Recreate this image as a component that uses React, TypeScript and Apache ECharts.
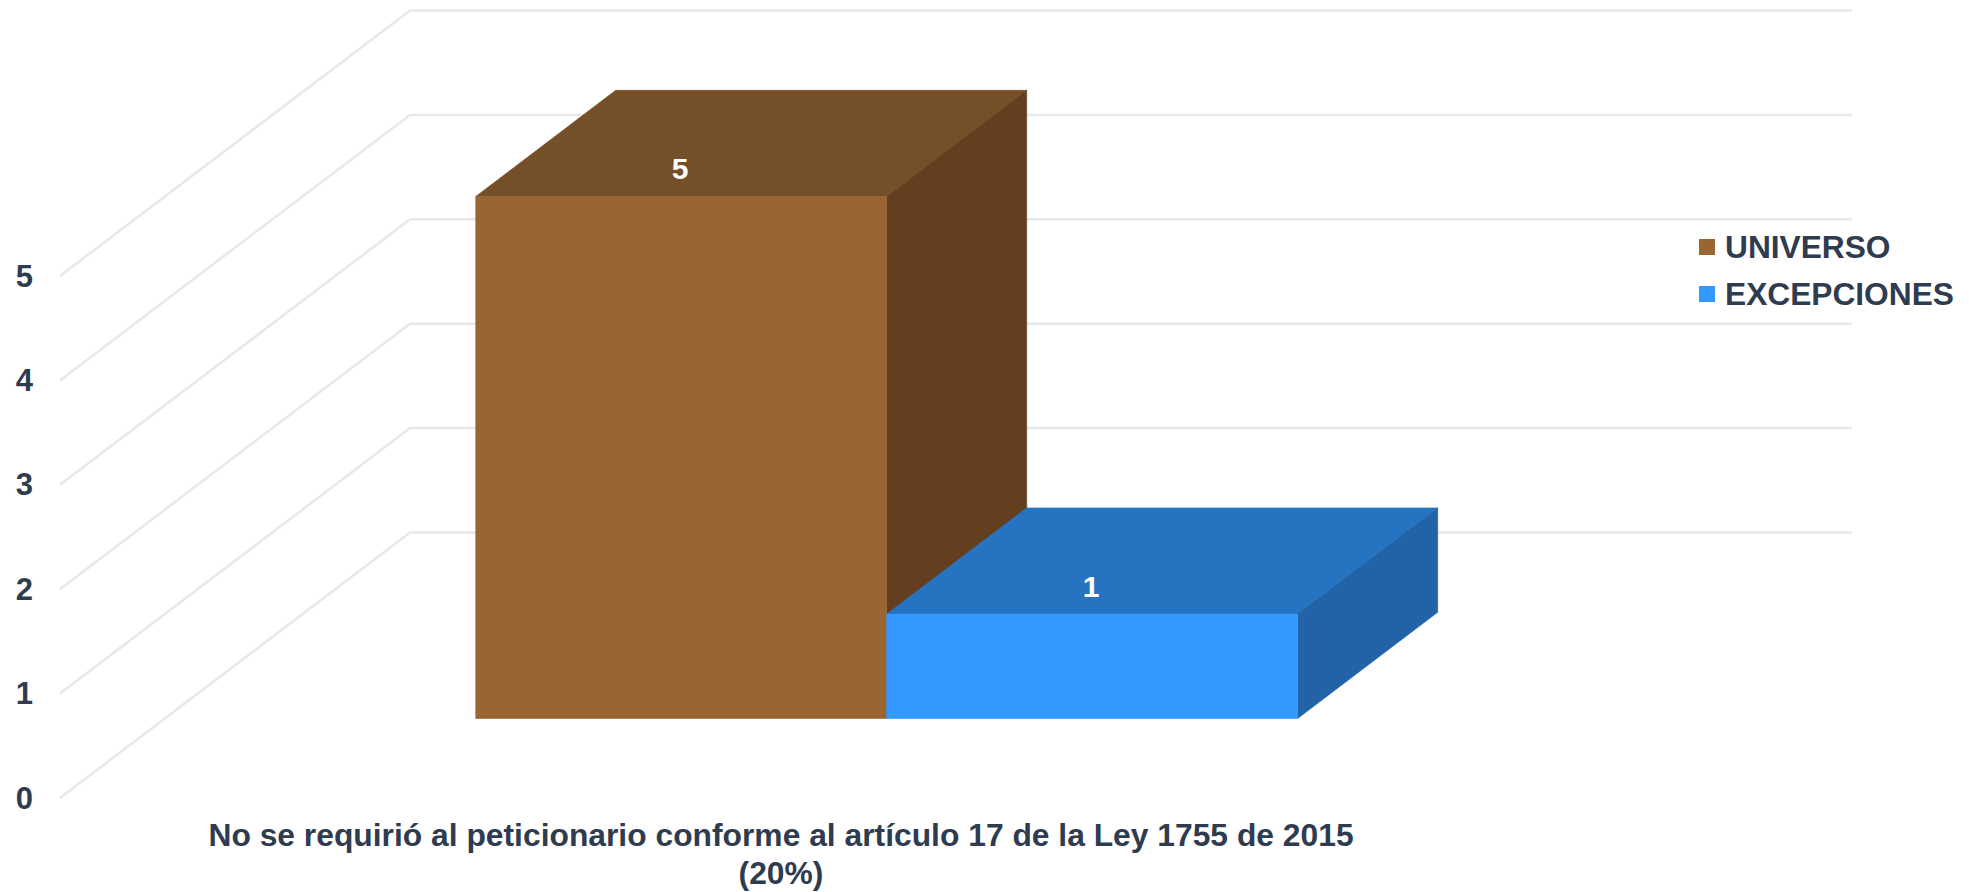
import React, { useEffect, useRef } from "react";
import * as echarts from "echarts";

const categories = ["No se requirió al peticionario conforme al artículo 17 de la Ley 1755 de 2015\n(20%)"];
const universoValues = [5];
const excepcionesValues = [1];
const yTicks = [0, 1, 2, 3, 4, 5];

const FONT = '"Liberation Sans", Arial, sans-serif';
const TEXT = "#2f3c50";
const DX = 350;
const DY = 265.5;
const BAR_Z = 0.302;
const BAR_LIFT = 79.5;
const BAR_DEPTH = 0.4;
const BAR_W = 0.285;

const palettes = [
  { front: "#996633", top: "#754f27", side: "#633f1f" },
  { front: "#3399ff", top: "#2673c2", side: "#2163a6" },
];

function barRenderer(idx: number) {
  return (params: any, api: any) => {
    const cs = params.coordSys;
    const v = api.value(1);
    const base = api.coord([api.value(0), 0]);
    const top = api.coord([api.value(0), v]);
    const w = cs.width * BAR_W;
    const lx = cs.x + cs.width / 2 + BAR_Z * DX + (idx - 1) * w;
    const rx = lx + w;
    const by = base[1] - BAR_LIFT;
    const ty = top[1] - BAR_LIFT;
    const dx = BAR_DEPTH * DX;
    const dy = BAR_DEPTH * DY;
    const c = palettes[idx];
    return {
      type: "group",
      children: [
        { type: "polygon", shape: { points: [[lx, ty], [lx + dx, ty - dy], [rx + dx, ty - dy], [rx, ty]] }, style: { fill: c.top, stroke: c.top, lineWidth: 0.6 } },
        { type: "polygon", shape: { points: [[rx, ty], [rx + dx, ty - dy], [rx + dx, by - dy], [rx, by]] }, style: { fill: c.side, stroke: c.side, lineWidth: 0.6 } },
        { type: "rect", shape: { x: lx, y: ty, width: w, height: by - ty }, style: { fill: c.front, stroke: c.front, lineWidth: 0.6 } },
        {
          type: "text",
          x: (lx + rx) / 2 - 1,
          y: ty - 28,
          style: { text: String(v), fill: "#ffffff", font: `bold 30px ${FONT}`, align: "center", verticalAlign: "middle" },
        },
      ],
    };
  };
}

function wallRenderer(params: any, api: any) {
  const cs = params.coordSys;
  const p = api.coord([0, api.value(1)]);
  const back = p[1] - DY;
  return {
    type: "polyline",
    shape: { points: [[cs.x, p[1]], [cs.x + DX, back], [cs.x + cs.width + DX, back]] },
    style: { fill: "none", stroke: "#e8e8e8", lineWidth: 2.5 },
  };
}

export default function App() {
  const ref = useRef<HTMLDivElement>(null);
  useEffect(() => {
    const chart = echarts.init(ref.current!, null, { renderer: "svg" });
    chart.setOption({
      animation: false,
      backgroundColor: "#ffffff",
      textStyle: { fontFamily: FONT },
      grid: { left: 60, top: 276, width: 1442, height: 529, containLabel: false },
      legend: {
        data: ["UNIVERSO", "EXCEPCIONES"],
        orient: "vertical",
        left: 1694,
        top: 226,
        itemWidth: 16,
        itemHeight: 16,
        itemGap: 15,
        icon: "rect",
        textStyle: { color: TEXT, fontFamily: FONT, fontWeight: "bold", fontSize: 31.7, padding: [0, 0, 0, 5] },
      },
      xAxis: {
        type: "category",
        data: categories,
        axisLine: { show: false },
        axisTick: { show: false },
        axisLabel: { color: TEXT, fontFamily: FONT, fontWeight: "bold", fontSize: 31.8, lineHeight: 38, margin: 18, interval: 0 },
      },
      yAxis: {
        type: "value",
        min: 0,
        max: 5,
        interval: 1,
        axisLine: { show: false },
        axisTick: { show: false },
        splitLine: { show: false },
        axisLabel: { color: TEXT, fontFamily: FONT, fontWeight: "bold", fontSize: 31, margin: 27, formatter: (v: number) => (yTicks.includes(v) ? String(v) : "") },
      },
      series: [
        { type: "custom", name: "walls", silent: true, data: yTicks.map((t) => [0, t]), encode: { x: 0, y: 1 }, renderItem: wallRenderer, clip: false },
        { type: "custom", name: "UNIVERSO", itemStyle: { color: palettes[0].front }, data: universoValues.map((v, i) => [i, v]), encode: { x: 0, y: 1 }, renderItem: barRenderer(0), clip: false },
        { type: "custom", name: "EXCEPCIONES", itemStyle: { color: palettes[1].front }, data: excepcionesValues.map((v, i) => [i, v]), encode: { x: 0, y: 1 }, renderItem: barRenderer(1), clip: false },
      ],
    });
    return () => chart.dispose();
  }, []);
  return <div ref={ref} style={{ position: "fixed", left: 0, top: 0, width: 1969, height: 892 }} />;
}
